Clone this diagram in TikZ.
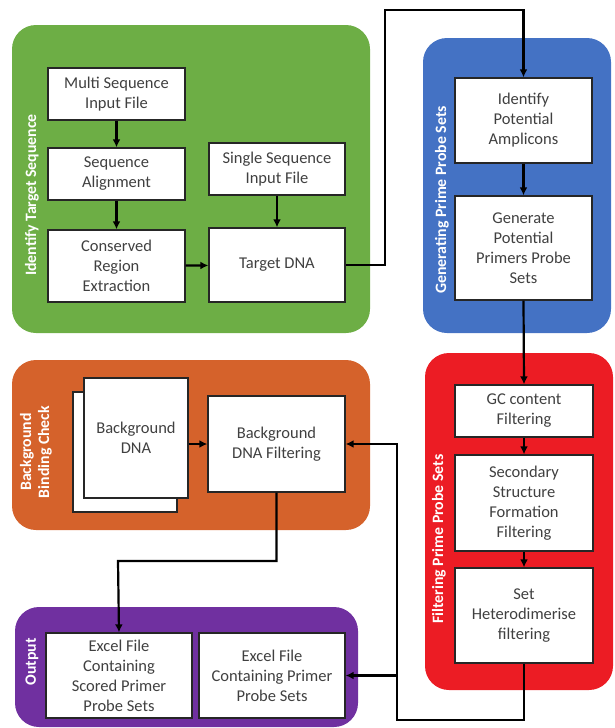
\documentclass[tikz,border=0pt]{standalone}
\usepackage{fontspec}
\setmainfont{Carlito}
\usetikzlibrary{arrows.meta}
\definecolor{grpgreen}{HTML}{6DAE45}
\definecolor{grpblue}{HTML}{4472C4}
\definecolor{grporange}{HTML}{D5622B}
\definecolor{grpred}{HTML}{EC1C24}
\definecolor{grppurple}{HTML}{7030A0}
\definecolor{boxtext}{HTML}{404040}

\begin{document}
\begin{tikzpicture}[x=1pt,y=-1pt,>={Latex[length=8pt,width=8pt]}]
	\useasboundingbox (0,0) rectangle (614,728);
	% coloured groups
	\begin{scope}[rounded corners=24pt]
		\fill[grpgreen]  (12,25)  rectangle (370,333);
		\fill[grpblue]   (423,38) rectangle (611,333);
		\fill[grporange] (12,360) rectangle (370,530);
		\fill[grpred]    (425,353) rectangle (613,690);
		\fill[grppurple] (15,607) rectangle (358,727);
	\end{scope}
	% group titles
	\begin{scope}
		\tikzstyle{every node}=[rotate=90,text=white,align=center,font=\bfseries\fontsize{15.8}{18}\selectfont];
		\path (32,195)  node (lgreen)  {Identify Target Sequence};
		\path (442,200) node (lblue)   {Generating Prime Probe Sets};
		\path (439,539) node (lred)    {Filtering Prime Probe Sets};
		\path (36,452)  node (lorange) {Background\\Binding Check};
		\path (32,662)  node (lpurple) {Output};
	\end{scope}
	% boxes
	\begin{scope}
		\tikzstyle{every node}=[draw=black!85,fill=white,line width=1.4pt,align=center,text=boxtext,inner sep=2pt,font=\fontsize{16.5}{20}\selectfont];
		\path (116.5,94)  node [minimum width=137pt,minimum height=52pt] (ms)  {Multi Sequence\\Input File};
		\path (116.5,174) node [minimum width=137pt,minimum height=52pt] (sa)  {Sequence\\Alignment};
		\path (116.5,266) node [minimum width=137pt,minimum height=72pt] (cr)  {Conserved\\Region\\Extraction};
		\path (277,169)   node [minimum width=136pt,minimum height=52pt] (ss)  {Single Sequence\\Input File};
		\path (277,265)   node [minimum width=136pt,minimum height=74pt] (td)  {Target DNA};
		\path (523.5,120.5) node [minimum width=137pt,minimum height=85pt] (ipa) {Identify\\Potential\\Amplicons};
		\path (523.5,248) node [minimum width=137pt,minimum height=104pt] (gpp) {Generate\\Potential\\Primers Probe\\Sets};
		\path (524,411)   node [minimum width=138pt,minimum height=52pt] (gc)  {GC content\\Filtering};
		\path (524,503)   node [minimum width=138pt,minimum height=96pt] (ssf) {Secondary\\Structure\\Formation\\Filtering};
		\path (524,615.5) node [minimum width=138pt,minimum height=95pt] (she) {Set\\Heterodimerise\\filtering};
		\path (125,452)   node [minimum width=104pt,minimum height=120pt] (bgb) {};
		\path (136,438)   node [minimum width=104pt,minimum height=120pt] (bgd) {Background\\DNA};
		\path (276.5,444) node [minimum width=137pt,minimum height=96pt] (bgf) {Background\\DNA Filtering};
		\path (119,675.5) node [minimum width=146pt,minimum height=85pt] (ex1) {Excel File\\Containing\\Scored Primer\\Probe Sets};
		\path (272,675.5) node [minimum width=146pt,minimum height=85pt] (ex2) {Excel File\\Containing Primer\\Probe Sets};
	\end{scope}
	% connectors
	\begin{scope}[line width=2.2pt]
		\coordinate (t1) at (385,10);
		\coordinate (b1) at (397,720);
		\coordinate (b2) at (118,561);
		\draw[->] (ms) -- (sa);
		\draw[->] (sa) -- (cr);
		\draw[->] (ss) -- (td);
		\draw[->] (cr) -- (td);
		\draw[->] (td.east) -| (t1) -| (ipa.north);
		\draw[->] (ipa) -- (gpp);
		\draw[->] (gpp.south) -- (gc.north);
		\draw[->] (gc) -- (ssf);
		\draw[->] (ssf) -- (she);
		\draw[->] (she.south) |- (b1) |- (bgf.east);
		\draw[->] (b1 |- ex2.east) -- (ex2.east);
		\draw[->] (bgd.east |- bgf.west) -- (bgf.west);
		\draw[->] (bgf.south) |- (b2) -- (ex1.north);
	\end{scope}
\end{tikzpicture}
\end{document}
